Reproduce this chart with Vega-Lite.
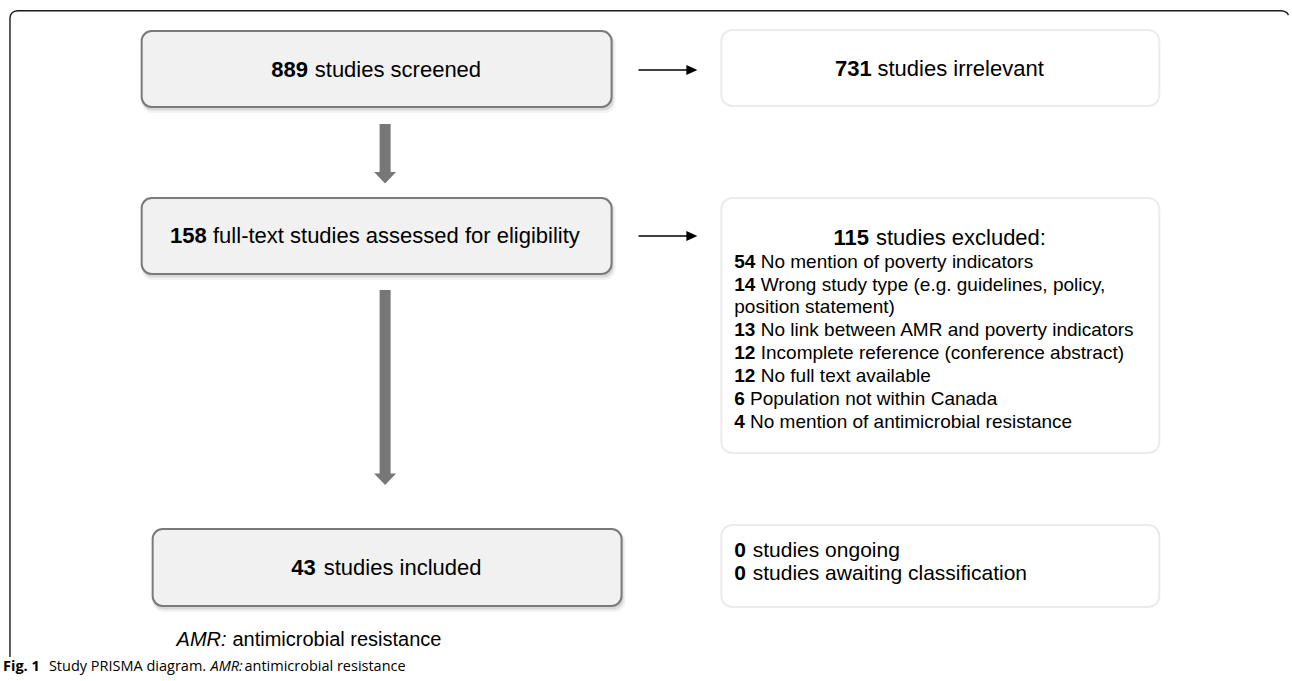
{
  "$schema": "https://vega.github.io/schema/vega-lite/v6.json",
  "width": 1292,
  "height": 681,
  "autosize": {"type": "fit", "contains": "padding"},
  "padding": 0,
  "background": "#ffffff",
  "config": {"view": {"stroke": null}, "font": "Liberation Sans"},
  "datasets": {
    "frame": [
      {"seq": 1, "x": 10, "y": 657},
      {"seq": 2, "x": 10, "y": 18},
      {"seq": 3, "x": 10.6, "y": 15},
      {"seq": 4, "x": 12.2, "y": 12.7},
      {"seq": 5, "x": 14.6, "y": 11.3},
      {"seq": 6, "x": 17.5, "y": 10.8},
      {"seq": 7, "x": 1284, "y": 10.8},
      {"seq": 8, "x": 1287.5, "y": 11.3},
      {"seq": 9, "x": 1290, "y": 12.8},
      {"seq": 10, "x": 1291.5, "y": 15}
    ],
    "boxes": [
      {"stage": "Screened", "kind": "main", "x0": 142, "x1": 613, "y0": 31, "y1": 107},
      {"stage": "Full text", "kind": "main", "x0": 142, "x1": 613, "y0": 198, "y1": 274},
      {"stage": "Included", "kind": "main", "x0": 153, "x1": 623, "y0": 529, "y1": 606},
      {"stage": "Irrelevant", "kind": "side", "x0": 723, "x1": 1162, "y0": 30, "y1": 106},
      {"stage": "Excluded", "kind": "side", "x0": 723, "x1": 1162, "y0": 198, "y1": 453},
      {"stage": "Other", "kind": "side", "x0": 723, "x1": 1162, "y0": 525, "y1": 607}
    ],
    "flows": [
      {"from": "Screened", "to": "Full text", "x": 386, "top": 124, "bottom": 173, "head": 177.5},
      {"from": "Full text", "to": "Included", "x": 386, "top": 290, "bottom": 474, "head": 479}
    ],
    "exits": [
      {"from": "Screened", "to": "Irrelevant", "y": 70, "start": 640, "end": 690, "head": 693.5},
      {"from": "Full text", "to": "Excluded", "y": 236, "start": 640, "end": 690, "head": 693.5}
    ],
    "texts": [
      {"block": "box", "part": "count", "text": "889", "x": 272, "y": 70},
      {"block": "box", "part": "label", "text": "studies screened", "x": 315.5, "y": 70},
      {"block": "box", "part": "count", "text": "731", "x": 837, "y": 69},
      {"block": "box", "part": "label", "text": "studies irrelevant", "x": 879.5, "y": 69},
      {"block": "box", "part": "count", "text": "158", "x": 170.5, "y": 236},
      {"block": "box", "part": "label", "text": "full-text studies assessed for eligibility", "x": 213.5, "y": 236},
      {"block": "box", "part": "count", "text": "115", "x": 835.5, "y": 238},
      {"block": "box", "part": "label", "text": "studies excluded:", "x": 878, "y": 238},
      {"block": "list", "part": "count", "text": "54", "x": 736, "y": 262},
      {"block": "list", "part": "label", "text": "No mention of poverty indicators", "x": 762.5, "y": 262},
      {"block": "list", "part": "count", "text": "14", "x": 736, "y": 285},
      {"block": "list", "part": "label", "text": "Wrong study type (e.g. guidelines, policy,", "x": 762.5, "y": 285},
      {"block": "list", "part": "label", "text": "position statement)", "x": 736, "y": 307},
      {"block": "list", "part": "count", "text": "13", "x": 736, "y": 330},
      {"block": "list", "part": "label", "text": "No link between AMR and poverty indicators", "x": 762.5, "y": 330},
      {"block": "list", "part": "count", "text": "12", "x": 736, "y": 353},
      {"block": "list", "part": "label", "text": "Incomplete reference (conference abstract)", "x": 762.5, "y": 353},
      {"block": "list", "part": "count", "text": "12", "x": 736, "y": 376},
      {"block": "list", "part": "label", "text": "No full text available", "x": 762.5, "y": 376},
      {"block": "list", "part": "count", "text": "6", "x": 736, "y": 399},
      {"block": "list", "part": "label", "text": "Population not within Canada", "x": 751.8, "y": 399},
      {"block": "list", "part": "count", "text": "4", "x": 736, "y": 422},
      {"block": "list", "part": "label", "text": "No mention of antimicrobial resistance", "x": 751.8, "y": 422},
      {"block": "box", "part": "count", "text": "43", "x": 292, "y": 568},
      {"block": "box", "part": "label", "text": "studies included", "x": 324.5, "y": 568},
      {"block": "note", "part": "count", "text": "0", "x": 736, "y": 550.5},
      {"block": "note", "part": "label", "text": "studies ongoing", "x": 754.5, "y": 550.5},
      {"block": "note", "part": "count", "text": "0", "x": 736, "y": 573.5},
      {"block": "note", "part": "label", "text": "studies awaiting classification", "x": 754.5, "y": 573.5},
      {"block": "legend", "part": "abbr", "text": "AMR:", "x": 177, "y": 640},
      {"block": "legend", "part": "label", "text": "antimicrobial resistance", "x": 233, "y": 640},
      {"block": "caption", "part": "figure", "text": "Fig. 1", "x": 3, "y": 667},
      {"block": "caption", "part": "label", "text": "Study PRISMA diagram.", "x": 49, "y": 667},
      {"block": "caption", "part": "abbr", "text": "AMR:", "x": 211, "y": 667},
      {"block": "caption", "part": "label", "text": "antimicrobial resistance", "x": 245, "y": 667}
    ]
  },
  "layer": [
    {
      "data": {"name": "frame"},
      "mark": {"type": "line", "stroke": "#1a1a1a", "strokeWidth": 1.4},
      "encoding": {
        "x": {"field": "x", "type": "quantitative", "scale": {"domain": [0, 1292], "nice": false, "zero": false}, "axis": null},
        "y": {"field": "y", "type": "quantitative", "scale": {"domain": [0, 681], "nice": false, "zero": false, "reverse": true}, "axis": null},
        "order": {"field": "seq", "type": "quantitative"}
      }
    },
    {
      "data": {"name": "boxes"},
      "transform": [{"filter": "datum.kind == 'main'"}],
      "mark": {"type": "rect", "fill": "#000000", "opacity": 0.05, "cornerRadius": 11, "xOffset": 0, "x2Offset": 4, "yOffset": 2, "y2Offset": 6},
      "encoding": {
        "x": {"field": "x0", "type": "quantitative", "scale": {"domain": [0, 1292], "nice": false, "zero": false}, "axis": null},
        "x2": {"field": "x1"},
        "y": {"field": "y0", "type": "quantitative", "scale": {"domain": [0, 681], "nice": false, "zero": false, "reverse": true}, "axis": null},
        "y2": {"field": "y1"}
      }
    },
    {
      "data": {"name": "boxes"},
      "transform": [{"filter": "datum.kind == 'main'"}],
      "mark": {"type": "rect", "fill": "#000000", "opacity": 0.1, "cornerRadius": 10, "xOffset": 0.5, "x2Offset": 2, "yOffset": 1.5, "y2Offset": 3.5},
      "encoding": {
        "x": {"field": "x0", "type": "quantitative", "scale": {"domain": [0, 1292], "nice": false, "zero": false}, "axis": null},
        "x2": {"field": "x1"},
        "y": {"field": "y0", "type": "quantitative", "scale": {"domain": [0, 681], "nice": false, "zero": false, "reverse": true}, "axis": null},
        "y2": {"field": "y1"}
      }
    },
    {
      "data": {"name": "boxes"},
      "transform": [{"filter": "datum.kind == 'main'"}],
      "mark": {"type": "rect", "fill": "#f1f1f1", "stroke": "#7a7a7a", "strokeWidth": 2, "cornerRadius": 10},
      "encoding": {
        "x": {"field": "x0", "type": "quantitative", "scale": {"domain": [0, 1292], "nice": false, "zero": false}, "axis": null},
        "x2": {"field": "x1"},
        "y": {"field": "y0", "type": "quantitative", "scale": {"domain": [0, 681], "nice": false, "zero": false, "reverse": true}, "axis": null},
        "y2": {"field": "y1"}
      }
    },
    {
      "data": {"name": "boxes"},
      "transform": [{"filter": "datum.kind == 'side'"}],
      "mark": {"type": "rect", "fill": "#ffffff", "stroke": "#ebebeb", "strokeWidth": 2, "cornerRadius": 11},
      "encoding": {
        "x": {"field": "x0", "type": "quantitative", "scale": {"domain": [0, 1292], "nice": false, "zero": false}, "axis": null},
        "x2": {"field": "x1"},
        "y": {"field": "y0", "type": "quantitative", "scale": {"domain": [0, 681], "nice": false, "zero": false, "reverse": true}, "axis": null},
        "y2": {"field": "y1"}
      }
    },
    {
      "data": {"name": "flows"},
      "mark": {"type": "rule", "stroke": "#777777", "strokeWidth": 11, "strokeCap": "butt"},
      "encoding": {
        "x": {"field": "x", "type": "quantitative", "scale": {"domain": [0, 1292], "nice": false, "zero": false}, "axis": null},
        "y": {"field": "top", "type": "quantitative", "scale": {"domain": [0, 681], "nice": false, "zero": false, "reverse": true}, "axis": null},
        "y2": {"field": "bottom"}
      }
    },
    {
      "data": {"name": "flows"},
      "mark": {"type": "point", "filled": true, "fill": "#777777", "strokeWidth": 0, "opacity": 1, "size": 484, "shape": "M-1,-0.5L1,-0.5L0,0.55Z"},
      "encoding": {
        "x": {"field": "x", "type": "quantitative", "scale": {"domain": [0, 1292], "nice": false, "zero": false}, "axis": null},
        "y": {"field": "head", "type": "quantitative", "scale": {"domain": [0, 681], "nice": false, "zero": false, "reverse": true}, "axis": null}
      }
    },
    {
      "data": {"name": "exits"},
      "mark": {"type": "rule", "stroke": "#000000", "strokeWidth": 1.5},
      "encoding": {
        "x": {"field": "start", "type": "quantitative", "scale": {"domain": [0, 1292], "nice": false, "zero": false}, "axis": null},
        "x2": {"field": "end"},
        "y": {"field": "y", "type": "quantitative", "scale": {"domain": [0, 681], "nice": false, "zero": false, "reverse": true}, "axis": null}
      }
    },
    {
      "data": {"name": "exits"},
      "mark": {"type": "point", "filled": true, "fill": "#000000", "strokeWidth": 0, "opacity": 1, "size": 121, "shape": "M-1,-0.9L1,0L-1,0.9Z"},
      "encoding": {
        "x": {"field": "head", "type": "quantitative", "scale": {"domain": [0, 1292], "nice": false, "zero": false}, "axis": null},
        "y": {"field": "y", "type": "quantitative", "scale": {"domain": [0, 681], "nice": false, "zero": false, "reverse": true}, "axis": null}
      }
    },
    {
      "data": {"name": "texts"},
      "transform": [{"filter": "datum.block == 'box' && datum.part == 'count'"}],
      "mark": {"type": "text", "align": "left", "baseline": "middle", "fontSize": 22, "fontWeight": "bold", "font": "Liberation Sans", "color": "#000000"},
      "encoding": {
        "x": {"field": "x", "type": "quantitative", "scale": {"domain": [0, 1292], "nice": false, "zero": false}, "axis": null},
        "y": {"field": "y", "type": "quantitative", "scale": {"domain": [0, 681], "nice": false, "zero": false, "reverse": true}, "axis": null},
        "text": {"field": "text"}
      }
    },
    {
      "data": {"name": "texts"},
      "transform": [{"filter": "datum.block == 'box' && datum.part == 'label'"}],
      "mark": {"type": "text", "align": "left", "baseline": "middle", "fontSize": 22, "font": "Liberation Sans", "color": "#000000"},
      "encoding": {
        "x": {"field": "x", "type": "quantitative", "scale": {"domain": [0, 1292], "nice": false, "zero": false}, "axis": null},
        "y": {"field": "y", "type": "quantitative", "scale": {"domain": [0, 681], "nice": false, "zero": false, "reverse": true}, "axis": null},
        "text": {"field": "text"}
      }
    },
    {
      "data": {"name": "texts"},
      "transform": [{"filter": "datum.block == 'note' && datum.part == 'count'"}],
      "mark": {"type": "text", "align": "left", "baseline": "middle", "fontSize": 21, "fontWeight": "bold", "font": "Liberation Sans", "color": "#000000"},
      "encoding": {
        "x": {"field": "x", "type": "quantitative", "scale": {"domain": [0, 1292], "nice": false, "zero": false}, "axis": null},
        "y": {"field": "y", "type": "quantitative", "scale": {"domain": [0, 681], "nice": false, "zero": false, "reverse": true}, "axis": null},
        "text": {"field": "text"}
      }
    },
    {
      "data": {"name": "texts"},
      "transform": [{"filter": "datum.block == 'note' && datum.part == 'label'"}],
      "mark": {"type": "text", "align": "left", "baseline": "middle", "fontSize": 21, "font": "Liberation Sans", "color": "#000000"},
      "encoding": {
        "x": {"field": "x", "type": "quantitative", "scale": {"domain": [0, 1292], "nice": false, "zero": false}, "axis": null},
        "y": {"field": "y", "type": "quantitative", "scale": {"domain": [0, 681], "nice": false, "zero": false, "reverse": true}, "axis": null},
        "text": {"field": "text"}
      }
    },
    {
      "data": {"name": "texts"},
      "transform": [{"filter": "datum.block == 'list' && datum.part == 'count'"}],
      "mark": {"type": "text", "align": "left", "baseline": "middle", "fontSize": 19, "fontWeight": "bold", "font": "Liberation Sans", "color": "#000000"},
      "encoding": {
        "x": {"field": "x", "type": "quantitative", "scale": {"domain": [0, 1292], "nice": false, "zero": false}, "axis": null},
        "y": {"field": "y", "type": "quantitative", "scale": {"domain": [0, 681], "nice": false, "zero": false, "reverse": true}, "axis": null},
        "text": {"field": "text"}
      }
    },
    {
      "data": {"name": "texts"},
      "transform": [{"filter": "datum.block == 'list' && datum.part == 'label'"}],
      "mark": {"type": "text", "align": "left", "baseline": "middle", "fontSize": 19, "font": "Liberation Sans", "color": "#000000"},
      "encoding": {
        "x": {"field": "x", "type": "quantitative", "scale": {"domain": [0, 1292], "nice": false, "zero": false}, "axis": null},
        "y": {"field": "y", "type": "quantitative", "scale": {"domain": [0, 681], "nice": false, "zero": false, "reverse": true}, "axis": null},
        "text": {"field": "text"}
      }
    },
    {
      "data": {"name": "texts"},
      "transform": [{"filter": "datum.block == 'legend' && datum.part == 'abbr'"}],
      "mark": {"type": "text", "align": "left", "baseline": "middle", "fontSize": 20, "fontStyle": "italic", "font": "Liberation Sans", "color": "#000000"},
      "encoding": {
        "x": {"field": "x", "type": "quantitative", "scale": {"domain": [0, 1292], "nice": false, "zero": false}, "axis": null},
        "y": {"field": "y", "type": "quantitative", "scale": {"domain": [0, 681], "nice": false, "zero": false, "reverse": true}, "axis": null},
        "text": {"field": "text"}
      }
    },
    {
      "data": {"name": "texts"},
      "transform": [{"filter": "datum.block == 'legend' && datum.part == 'label'"}],
      "mark": {"type": "text", "align": "left", "baseline": "middle", "fontSize": 20, "font": "Liberation Sans", "color": "#000000"},
      "encoding": {
        "x": {"field": "x", "type": "quantitative", "scale": {"domain": [0, 1292], "nice": false, "zero": false}, "axis": null},
        "y": {"field": "y", "type": "quantitative", "scale": {"domain": [0, 681], "nice": false, "zero": false, "reverse": true}, "axis": null},
        "text": {"field": "text"}
      }
    },
    {
      "data": {"name": "texts"},
      "transform": [{"filter": "datum.block == 'caption' && datum.part == 'figure'"}],
      "mark": {"type": "text", "align": "left", "baseline": "middle", "fontSize": 14.5, "fontWeight": "bold", "font": "Open Sans", "color": "#000000"},
      "encoding": {
        "x": {"field": "x", "type": "quantitative", "scale": {"domain": [0, 1292], "nice": false, "zero": false}, "axis": null},
        "y": {"field": "y", "type": "quantitative", "scale": {"domain": [0, 681], "nice": false, "zero": false, "reverse": true}, "axis": null},
        "text": {"field": "text"}
      }
    },
    {
      "data": {"name": "texts"},
      "transform": [{"filter": "datum.block == 'caption' && datum.part == 'label'"}],
      "mark": {"type": "text", "align": "left", "baseline": "middle", "fontSize": 14.5, "font": "Open Sans", "color": "#000000"},
      "encoding": {
        "x": {"field": "x", "type": "quantitative", "scale": {"domain": [0, 1292], "nice": false, "zero": false}, "axis": null},
        "y": {"field": "y", "type": "quantitative", "scale": {"domain": [0, 681], "nice": false, "zero": false, "reverse": true}, "axis": null},
        "text": {"field": "text"}
      }
    },
    {
      "data": {"name": "texts"},
      "transform": [{"filter": "datum.block == 'caption' && datum.part == 'abbr'"}],
      "mark": {"type": "text", "align": "left", "baseline": "middle", "fontSize": 14.5, "fontStyle": "italic", "font": "Open Sans", "color": "#000000"},
      "encoding": {
        "x": {"field": "x", "type": "quantitative", "scale": {"domain": [0, 1292], "nice": false, "zero": false}, "axis": null},
        "y": {"field": "y", "type": "quantitative", "scale": {"domain": [0, 681], "nice": false, "zero": false, "reverse": true}, "axis": null},
        "text": {"field": "text"}
      }
    }
  ]
}
